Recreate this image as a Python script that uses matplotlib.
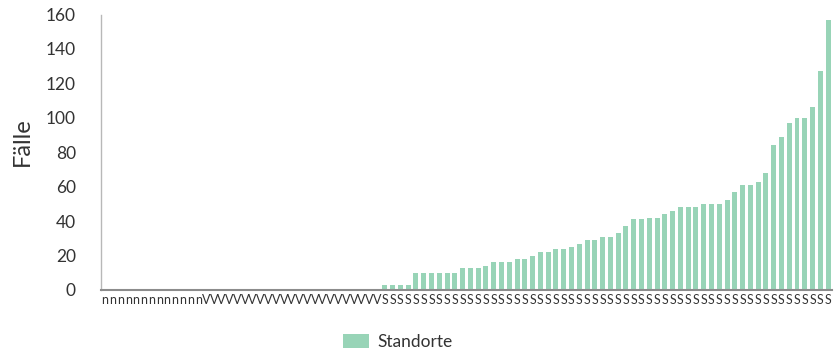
import numpy as np
import matplotlib
matplotlib.use("Agg")
import matplotlib.pyplot as plt

plt.rcParams['font.family'] = ['Lato', 'DejaVu Sans']

# Kategorien (abgeschnittene Beschriftungen) und Fallzahlen
labels = ['n'] * 13 + ['V'] * 23 + ['S'] * 58
faelle_s = [3, 3, 3, 3, 10, 10, 10, 10, 10, 10, 13, 13, 13, 14, 16, 16, 16,
            18, 18, 20, 22, 22, 24, 24, 25, 27, 29, 29, 31, 31, 33, 37, 41, 41,
            42, 42, 44, 46, 48, 48, 48, 50, 50, 50, 52, 57, 61, 61, 63, 68, 84,
            89, 97, 100, 100, 106, 127, 157]
faelle = [0] * 36 + faelle_s
serie = "Standorte"
farbe = "#98d4b7"

W, H = 834, 354
fig = plt.figure(figsize=(W / 100, H / 100), dpi=100)
ax = fig.add_axes([101 / W, 1 - 290 / H, 731 / W, 275.5 / H])

x = np.arange(len(labels))
ax.bar(x, faelle, width=0.64, color=farbe, label=serie)

ax.set_xlim(-0.5, len(labels) - 0.5)
ax.set_ylim(0, 160)
ax.set_yticks(range(0, 161, 20))
ax.set_xticks(x)
ax.set_xticklabels(labels, fontsize=9, color='#333333')
ax.tick_params(axis='y', length=0, pad=18, labelsize=12.5, labelcolor='#333333')
ax.tick_params(axis='x', length=0, pad=3)

for s in ['top', 'right']:
    ax.spines[s].set_visible(False)
ax.spines['left'].set_color('#b8b8b8')
ax.spines['left'].set_linewidth(1.0)
ax.spines['bottom'].set_color('#8c8c8c')
ax.spines['bottom'].set_linewidth(1.5)

fig.text(22 / W, 1 - 142 / H, "Fälle", rotation=90, fontsize=17,
         ha='center', va='center', color='#333333')

fig.legend(loc='center', bbox_to_anchor=(398 / W, 1 - 342 / H), frameon=False,
           fontsize=12.5, handlelength=1.5, handleheight=0.8, handletextpad=0.5,
           labelcolor='#333333')

fig.savefig("out.png", dpi=100)
